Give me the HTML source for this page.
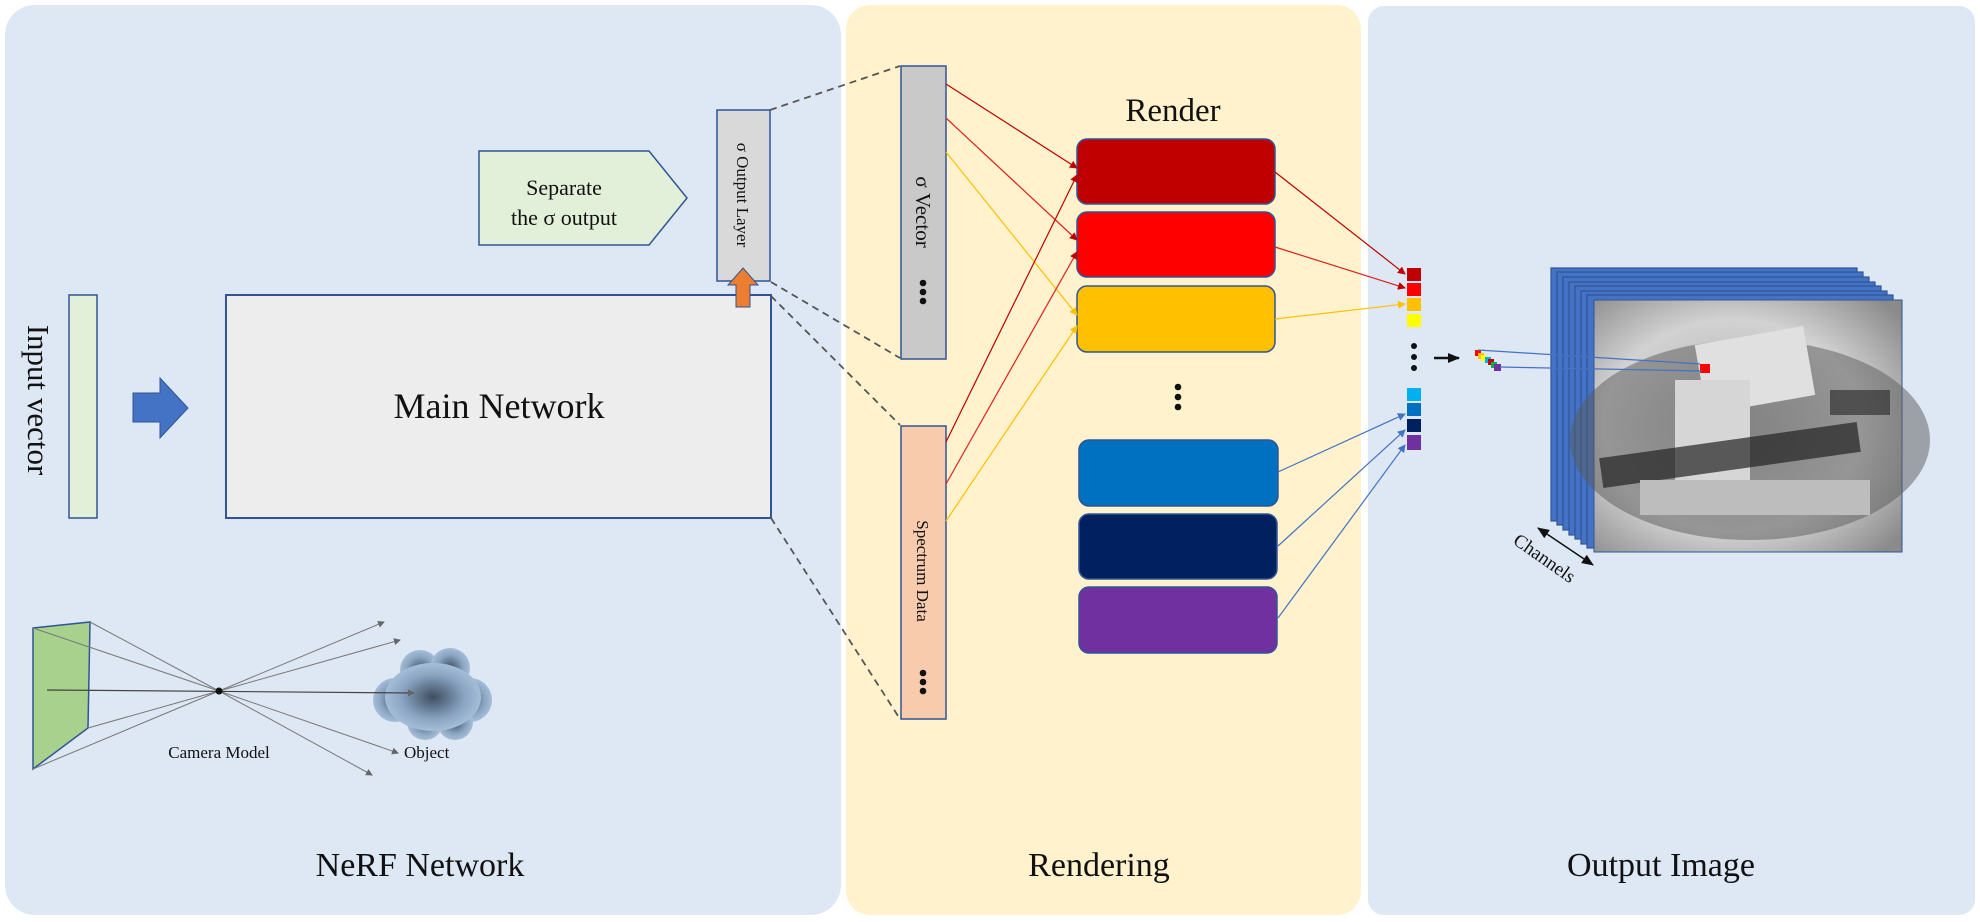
<!DOCTYPE html>
<html><head><meta charset="utf-8"><style>
html,body{margin:0;padding:0;background:#fff;}
svg{display:block;font-family:"Liberation Serif",serif;}
</style></head><body>
<svg width="1980" height="922" viewBox="0 0 1980 922" xmlns="http://www.w3.org/2000/svg">
<defs>
<radialGradient id="cloud" cx="0.5" cy="0.5" r="0.55">
<stop offset="0" stop-color="#3e4d60"/><stop offset="0.6" stop-color="#8aa5c2"/><stop offset="1" stop-color="#adc5de"/></radialGradient>
<radialGradient id="photo" cx="0.45" cy="0.5" r="0.7">
<stop offset="0" stop-color="#a8a8a8"/><stop offset="0.6" stop-color="#d2d2d2"/><stop offset="1" stop-color="#8a8a8a"/></radialGradient>
<marker id="ar" markerWidth="8" markerHeight="8" refX="7" refY="4" orient="auto" markerUnits="userSpaceOnUse"><path d="M0,0 L8,4 L0,8 z" fill="#c00000"/></marker>
<marker id="ay" markerWidth="8" markerHeight="8" refX="7" refY="4" orient="auto" markerUnits="userSpaceOnUse"><path d="M0,0 L8,4 L0,8 z" fill="#ffc000"/></marker>
<marker id="ab" markerWidth="8" markerHeight="8" refX="7" refY="4" orient="auto" markerUnits="userSpaceOnUse"><path d="M0,0 L8,4 L0,8 z" fill="#4472c4"/></marker>
<marker id="ag" markerWidth="7" markerHeight="7" refX="6" refY="3.5" orient="auto" markerUnits="userSpaceOnUse"><path d="M0,0 L7,3.5 L0,7 z" fill="#666"/></marker>
<marker id="ak" markerWidth="12" markerHeight="10" refX="11" refY="5" orient="auto" markerUnits="userSpaceOnUse"><path d="M0,0 L12,5 L0,10 z" fill="#111"/></marker>
<marker id="aks" markerWidth="12" markerHeight="10" refX="1" refY="5" orient="auto" markerUnits="userSpaceOnUse"><path d="M12,0 L0,5 L12,10 z" fill="#111"/></marker>
</defs>
<rect width="1980" height="922" fill="#fff"/>
<rect x="5" y="5" width="836" height="910" rx="30" fill="#dee8f4"/>
<rect x="846" y="5" width="515" height="910" rx="24" fill="#fff2cc"/>
<rect x="1368" y="6" width="607" height="909" rx="16" fill="#dee8f4"/>

<rect x="69" y="295" width="28" height="223" fill="#e2f0d9" stroke="#2f5597" stroke-width="1.5"/>
<text transform="translate(28,400) rotate(90)" font-size="31" text-anchor="middle" fill="#111">Input vector</text>
<path d="M133,393 L160,393 L160,378 L188,408 L160,438 L160,422 L133,422 z" fill="#4472c4" stroke="#2f5597"/>

<rect x="226" y="295" width="545" height="223" fill="#ededed" stroke="#2f5597" stroke-width="2"/>
<text x="499" y="418" font-size="36" text-anchor="middle" fill="#111">Main Network</text>

<path d="M479,151 L649,151 L687,198 L649,245 L479,245 z" fill="#e2f0d9" stroke="#2f5597" stroke-width="1.5"/>
<text x="564" y="195" font-size="22" text-anchor="middle" fill="#111">Separate</text>
<text x="564" y="225" font-size="22" text-anchor="middle" fill="#111">the σ output</text>

<rect x="717" y="110" width="53" height="171" fill="#d9d9d9" stroke="#2f5597" stroke-width="1.5"/>
<text transform="translate(737,195) rotate(90)" font-size="17" text-anchor="middle" fill="#111">σ Output Layer</text>
<path d="M736,307 L750,307 L750,285 L758,285 L743,268 L728,285 L736,285 z" fill="#ed7d31" stroke="#2f5597"/>

<g stroke="#555" stroke-width="1.8" stroke-dasharray="7,5" fill="none">
<line x1="770" y1="110" x2="900" y2="66"/>
<line x1="771" y1="282" x2="900" y2="358"/>
<line x1="771" y1="296" x2="900" y2="425"/>
<line x1="771" y1="518" x2="900" y2="719"/>
</g>

<rect x="901" y="66" width="45" height="293" fill="#c9c9c9" stroke="#2f5597" stroke-width="1.5"/>
<text transform="translate(916,212) rotate(90)" font-size="21" text-anchor="middle" fill="#111">σ Vector</text>
<g fill="#111"><circle cx="923" cy="283" r="3.3"/><circle cx="923" cy="292" r="3.3"/><circle cx="923" cy="301" r="3.3"/></g>
<rect x="901" y="426" width="45" height="293" fill="#f8cbad" stroke="#2f5597" stroke-width="1.5"/>
<text transform="translate(917,571) rotate(90)" font-size="17" text-anchor="middle" fill="#111">Spectrum Data</text>
<g fill="#111"><circle cx="923" cy="673" r="3.3"/><circle cx="923" cy="682" r="3.3"/><circle cx="923" cy="691" r="3.3"/></g>

<path d="M33,628 L90,622 L88,728 L33,769 z" fill="#a9d18e" stroke="#2f5597" stroke-width="1.5"/>
<g stroke="#777" stroke-width="1" fill="none" marker-end="url(#ag)">
<polyline points="33,628 219,691 372,775"/>
<polyline points="90,622 219,691 398,753"/>
<polyline points="88,728 219,691 384,622"/>
<polyline points="33,769 219,691 400,640"/>
</g>
<g fill="url(#cloud)">
<circle cx="395" cy="700" r="22"/><circle cx="470" cy="700" r="22"/><circle cx="420" cy="670" r="20"/><circle cx="450" cy="668" r="20"/><circle cx="425" cy="722" r="18"/><circle cx="455" cy="722" r="18"/>
</g>
<ellipse cx="433" cy="697" rx="48" ry="34" fill="url(#cloud)"/>
<line x1="47" y1="690" x2="414" y2="693" stroke="#444" stroke-width="1.2" marker-end="url(#ag)"/>
<circle cx="219" cy="691" r="3.5" fill="#111"/>
<text x="219" y="758" font-size="17" text-anchor="middle" fill="#111">Camera Model</text>
<text x="404" y="758" font-size="17" fill="#111">Object</text>
<text x="420" y="876" font-size="34" text-anchor="middle" fill="#111">NeRF Network</text>

<text x="1173" y="121" font-size="33" text-anchor="middle" fill="#111">Render</text>
<g stroke="#2f5597" stroke-width="1.5">
<rect x="1077" y="139" width="198" height="65" rx="10" fill="#c00000"/>
<rect x="1077" y="212" width="198" height="65" rx="10" fill="#ff0000"/>
<rect x="1077" y="286" width="198" height="66" rx="10" fill="#ffc000"/>
<rect x="1079" y="440" width="199" height="66" rx="10" fill="#0070c0"/>
<rect x="1079" y="514" width="198" height="65" rx="10" fill="#002060"/>
<rect x="1079" y="587" width="198" height="66" rx="10" fill="#7030a0"/>
</g>
<g fill="#111"><circle cx="1178" cy="387" r="3.3"/><circle cx="1178" cy="397" r="3.3"/><circle cx="1178" cy="407" r="3.3"/></g>

<g stroke-width="1.2" fill="none">
<line x1="946" y1="84" x2="1077" y2="168" stroke="#c00000" marker-end="url(#ar)"/>
<line x1="946" y1="118" x2="1077" y2="240" stroke="#e02020" marker-end="url(#ar)"/>
<line x1="946" y1="152" x2="1077" y2="315" stroke="#ffc000" marker-end="url(#ay)"/>
<line x1="946" y1="442" x2="1077" y2="175" stroke="#c00000" marker-end="url(#ar)"/>
<line x1="946" y1="484" x2="1077" y2="252" stroke="#e02020" marker-end="url(#ar)"/>
<line x1="946" y1="521" x2="1077" y2="326" stroke="#ffc000" marker-end="url(#ay)"/>
<line x1="1275" y1="172" x2="1405" y2="274" stroke="#c00000" marker-end="url(#ar)"/>
<line x1="1275" y1="247" x2="1405" y2="288" stroke="#e02020" marker-end="url(#ar)"/>
<line x1="1275" y1="319" x2="1405" y2="304" stroke="#ffc000" marker-end="url(#ay)"/>
<line x1="1278" y1="472" x2="1405" y2="414" stroke="#4472c4" marker-end="url(#ab)"/>
<line x1="1278" y1="546" x2="1405" y2="430" stroke="#4472c4" marker-end="url(#ab)"/>
<line x1="1278" y1="618" x2="1405" y2="445" stroke="#4472c4" marker-end="url(#ab)"/>
</g>

<rect x="1407" y="268" width="14" height="13" fill="#c00000"/>
<rect x="1407" y="283" width="14" height="13" fill="#ff0000"/>
<rect x="1407" y="298" width="14" height="13" fill="#ffc000"/>
<rect x="1407" y="314" width="14" height="13" fill="#ffff00"/>
<g fill="#111"><circle cx="1414" cy="346" r="3"/><circle cx="1414" cy="357" r="3"/><circle cx="1414" cy="368" r="3"/></g>
<rect x="1407" y="388" width="14" height="13" fill="#00b0f0"/>
<rect x="1407" y="403" width="14" height="13" fill="#0070c0"/>
<rect x="1407" y="419" width="14" height="13" fill="#002060"/>
<rect x="1407" y="435" width="14" height="15" fill="#7030a0"/>
<line x1="1434" y1="358" x2="1459" y2="358" stroke="#111" stroke-width="2.5" marker-end="url(#ak)"/>

<g fill="#4472c4" stroke="#2f5597" stroke-width="1.2">
<rect x="1551" y="268" width="306" height="253"/>
<rect x="1557" y="272" width="306" height="253"/>
<rect x="1563" y="277" width="306" height="253"/>
<rect x="1569" y="282" width="306" height="253"/>
<rect x="1575" y="286" width="306" height="253"/>
<rect x="1581" y="291" width="306" height="253"/>
<rect x="1587" y="295" width="306" height="253"/>
</g>
<rect x="1594" y="300" width="308" height="252" fill="url(#photo)" stroke="#2f5597"/>
<ellipse cx="1750" cy="440" rx="180" ry="100" fill="#5a5a5a" opacity="0.5"/>
<rect x="1700" y="335" width="110" height="70" fill="#e0e0e0" transform="rotate(-10 1755 370)"/>
<rect x="1675" y="380" width="75" height="110" fill="#d6d6d6"/>
<rect x="1600" y="440" width="260" height="30" fill="#222" opacity="0.7" transform="rotate(-8 1730 455)"/>
<rect x="1640" y="480" width="230" height="35" fill="#bdbdbd"/>
<rect x="1830" y="390" width="60" height="25" fill="#333" opacity="0.7"/>
<rect x="1700" y="364" width="10" height="9" fill="#ff0000"/>
<rect x="1475" y="350" width="6" height="6" fill="#ff0000"/>
<rect x="1478" y="353" width="6" height="6" fill="#ffc000"/>
<rect x="1481" y="355" width="6" height="6" fill="#ffff00"/>
<rect x="1485" y="357" width="6" height="6" fill="#00b0f0"/>
<rect x="1488" y="359" width="6" height="6" fill="#c00000"/>
<rect x="1491" y="362" width="6" height="6" fill="#00b050"/>
<rect x="1494" y="364" width="7" height="7" fill="#7030a0"/>
<line x1="1478" y1="350" x2="1700" y2="364" stroke="#4472c4" stroke-width="1.2"/>
<line x1="1500" y1="367" x2="1702" y2="371" stroke="#4472c4" stroke-width="1.2"/>

<line x1="1538" y1="528" x2="1593" y2="565" stroke="#111" stroke-width="1.5" marker-start="url(#aks)" marker-end="url(#ak)"/>
<text transform="translate(1512,543) rotate(35)" font-size="19" fill="#111">Channels</text>

<text x="1099" y="876" font-size="34" text-anchor="middle" fill="#111">Rendering</text>
<text x="1661" y="876" font-size="34" text-anchor="middle" fill="#111">Output Image</text>
</svg>
</body></html>
